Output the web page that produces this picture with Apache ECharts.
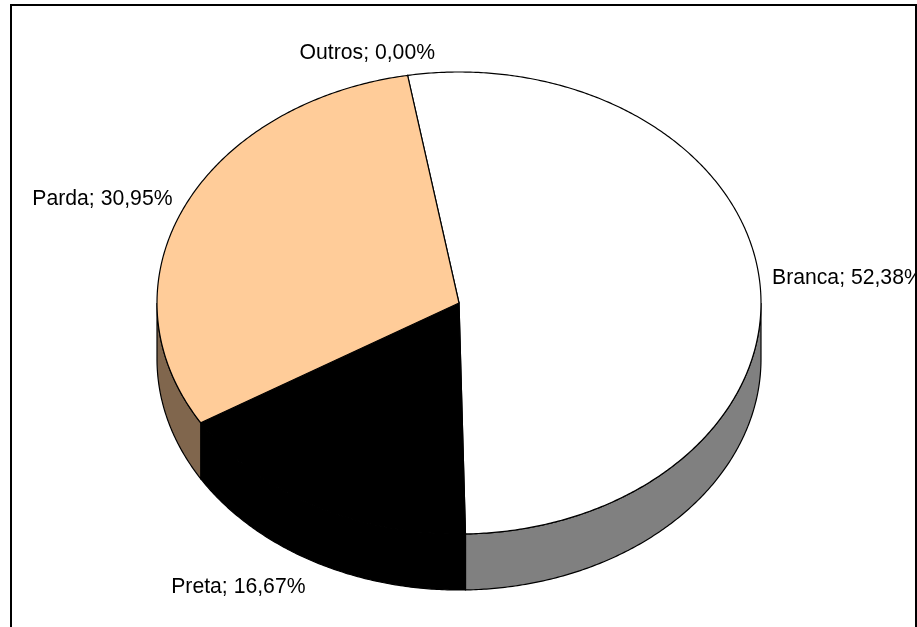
<!DOCTYPE html>
<html>
<head>
<meta charset="utf-8">
<style>
  html, body { margin: 0; padding: 0; background: #fff; overflow: hidden; }
  #chart { width: 917px; height: 627px; }
</style>
<script src="https://cdn.jsdelivr.net/npm/echarts@6/dist/echarts.min.js"></script>
</head>
<body>
<div id="chart"></div>
<script>
const categories = ["Branca", "Preta", "Parda", "Outros"];
const percents = [52.38, 16.67, 30.95, 0.0];
const topColors = ["#ffffff", "#000000", "#ffcc99", "#c0c0c0"];
const wallColors = ["#808080", "#000000", "#80664d", "#606060"];

// pie layout, tilted disc seen from above
const cx = 459, cy = 303, rx = 302, ry = 231, depth = 56;
const startAngle = -9.8;
// label anchor: x, y, align
const labelAt = [
  [772, 278, "left"],
  [305.5, 587, "right"],
  [172.5, 199, "right"],
  [435, 53, "right"]
];

function rim(deg, drop) {
  const a = (deg * Math.PI) / 180;
  return [cx + rx * Math.sin(a), cy - ry * Math.cos(a) + (drop || 0)];
}

function arc(from, to, drop) {
  const pts = [];
  const n = Math.max(1, Math.ceil(Math.abs(to - from) * 2));
  for (let i = 0; i <= n; i++) {
    pts.push(rim(from + ((to - from) * i) / n, drop));
  }
  return pts;
}

function renderSlice(params, api) {
  const i = params.dataIndex;
  let before = 0;
  for (let k = 0; k < i; k++) before += percents[k];
  const total = percents.reduce((s, v) => s + v, 0);
  const from = startAngle + (before / total) * 360;
  const to = from + (api.value(0) / total) * 360;
  const line = { stroke: "#000", lineWidth: 1.2 };
  const children = [];

  // side wall only on the front half of the disc
  const wFrom = Math.max(from, 90), wTo = Math.min(to, 270);
  if (wTo > wFrom) {
    children.push({
      type: "polygon",
      shape: { points: arc(wFrom, wTo, 0).concat(arc(wTo, wFrom, depth)) },
      style: Object.assign({ fill: wallColors[i] }, line)
    });
  }
  if (to > from) {
    children.push({
      type: "polygon",
      shape: { points: [[cx, cy]].concat(arc(from, to, 0)) },
      style: Object.assign({ fill: topColors[i] }, line)
    });
  }
  const pos = labelAt[i];
  children.push({
    type: "text",
    z2: 10,
    style: {
      x: pos[0],
      y: pos[1],
      text: categories[i] + "; " + api.value(0).toFixed(2).replace(".", ",") + "%",
      align: pos[2],
      verticalAlign: "middle",
      fill: "#000",
      font: "21.2px 'Liberation Sans', Arial, sans-serif"
    }
  });
  return { type: "group", children: children };
}

const chart = echarts.init(document.getElementById("chart"), null, { renderer: "canvas" });
chart.setOption({
  animation: false,
  backgroundColor: "#fff",
  graphic: [
    {
      type: "rect",
      z: 100,
      shape: { x: 11, y: 5, width: 905, height: 700 },
      style: { fill: "none", stroke: "#000", lineWidth: 2 }
    }
  ],
  series: [
    {
      type: "custom",
      coordinateSystem: "none",
      renderItem: renderSlice,
      data: percents.map((v) => [v])
    }
  ]
});
</script>
</body>
</html>
